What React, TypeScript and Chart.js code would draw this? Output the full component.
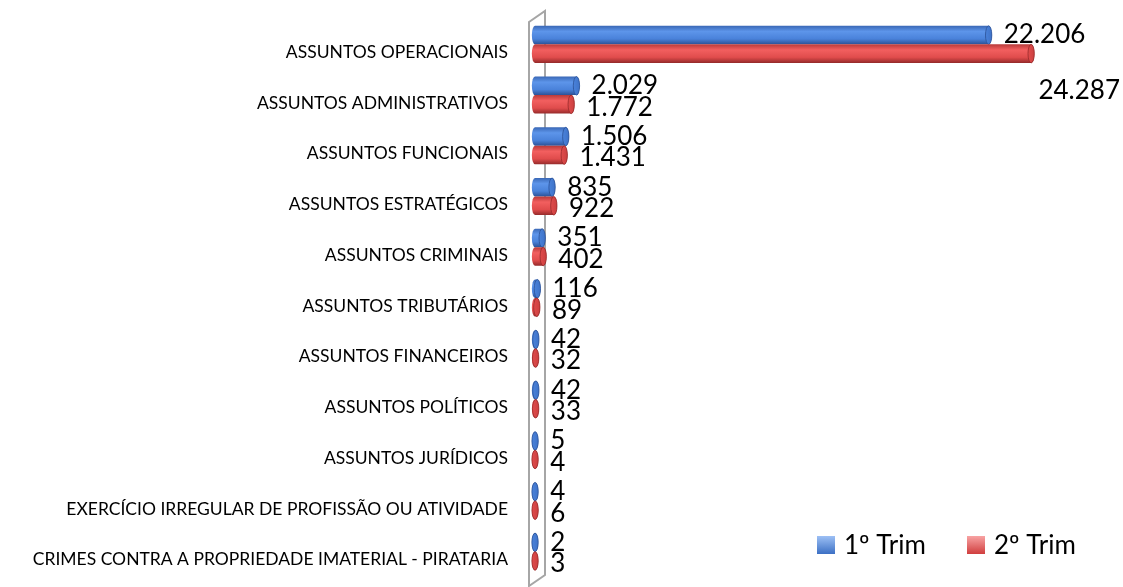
import React, { useEffect, useRef } from "react";
import { Chart, registerables } from "chart.js";

Chart.register(...registerables);

const categories = [
  "ASSUNTOS OPERACIONAIS",
  "ASSUNTOS ADMINISTRATIVOS",
  "ASSUNTOS FUNCIONAIS",
  "ASSUNTOS ESTRATÉGICOS",
  "ASSUNTOS CRIMINAIS",
  "ASSUNTOS TRIBUTÁRIOS",
  "ASSUNTOS FINANCEIROS",
  "ASSUNTOS POLÍTICOS",
  "ASSUNTOS JURÍDICOS",
  "EXERCÍCIO IRREGULAR DE PROFISSÃO OU ATIVIDADE",
  "CRIMES CONTRA A PROPRIEDADE IMATERIAL - PIRATARIA",
];
const trim1 = [22206, 2029, 1506, 835, 351, 116, 42, 42, 5, 4, 2];
const trim2 = [24287, 1772, 1431, 922, 402, 89, 32, 33, 4, 6, 3];
const seriesNames = ["1º Trim", "2º Trim"];
const axisMax = 28000;

const palettes = [
  { top: "#3a68b6", hi: "#5d95ea", mid: "#4a82da", bot: "#2b5196", cap: "#3f73c8", capEdge: "#2b5196", legTop: "#9dc0f5", legBot: "#3c70c4" },
  { top: "#b83a3a", hi: "#f25f5f", mid: "#e04c4c", bot: "#952a2a", cap: "#cc4040", capEdge: "#952a2a", legTop: "#f8a3a3", legBot: "#d03e3e" },
];

const FONT = "Lato, 'Open Sans', sans-serif";

function fmt(v: number): string {
  return String(v).replace(/\B(?=(\d{3})+(?!\d))/g, ".");
}

const cylinderPlugin = {
  id: "cylinders",
  beforeDatasetsDraw(chart: any) {
    const { ctx, chartArea } = chart;
    const l = chartArea.left;
    ctx.save();
    ctx.strokeStyle = "#a6a6a6";
    ctx.lineWidth = 2;
    ctx.beginPath();
    ctx.moveTo(l - 6, chartArea.top + 3);
    ctx.lineTo(l + 10, chartArea.top - 8);
    ctx.lineTo(l + 10, chartArea.bottom - 2);
    ctx.lineTo(l - 6, chartArea.bottom + 9);
    ctx.closePath();
    ctx.stroke();
    ctx.restore();
  },
  afterDatasetsDraw(chart: any) {
    const { ctx, width } = chart;
    ctx.save();
    chart.data.datasets.forEach((ds: any, di: number) => {
      const meta = chart.getDatasetMeta(di);
      const p = palettes[di];
      meta.data.forEach((el: any, i: number) => {
        const { x, y, base, height } = el.getProps(["x", "y", "base", "height"], true);
        const h = height;
        const top = y - h / 2;
        const rx = Math.max(2.8, h * 0.17);
        const g = ctx.createLinearGradient(0, top, 0, top + h);
        g.addColorStop(0, p.top);
        g.addColorStop(0.3, p.hi);
        g.addColorStop(0.7, p.mid);
        g.addColorStop(1, p.bot);
        ctx.fillStyle = g;
        ctx.beginPath();
        ctx.ellipse(base, y, rx, h / 2, 0, Math.PI / 2, (Math.PI * 3) / 2);
        ctx.lineTo(x, top);
        ctx.ellipse(x, y, rx, h / 2, 0, -Math.PI / 2, Math.PI / 2);
        ctx.closePath();
        ctx.fill();
        const cg = ctx.createLinearGradient(x - rx, 0, x + rx, 0);
        cg.addColorStop(0, p.mid);
        cg.addColorStop(1, p.cap);
        ctx.fillStyle = cg;
        ctx.beginPath();
        ctx.ellipse(x, y, rx, h / 2, 0, 0, Math.PI * 2);
        ctx.fill();
        ctx.strokeStyle = p.capEdge;
        ctx.lineWidth = 0.8;
        ctx.stroke();
        const txt = fmt(ds.data[i]);
        ctx.fillStyle = "#000";
        ctx.font = `26px ${FONT}`;
        ctx.textBaseline = "middle";
        const tw = ctx.measureText(txt).width;
        let lx = x + rx + 12;
        let ly = y + (di === 1 ? 3 : 0);
        if (lx + tw > width - 2) {
          // not enough room beside the bar: drop the label below it
          lx = width - 3 - tw;
          ly = y + h * 2;
        }
        ctx.textAlign = "left";
        ctx.fillText(txt, lx, ly);
      });
    });
    ctx.restore();
  },
  afterDraw(chart: any) {
    const { ctx, chartArea } = chart;
    ctx.save();
    ctx.font = `26px ${FONT}`;
    ctx.textBaseline = "middle";
    ctx.textAlign = "left";
    const sq = 18;
    const gapText = 9;
    const itemStep = 150;
    const cy = chartArea.bottom - 32;
    const x0 = chartArea.right - 290;
    seriesNames.forEach((n, i) => {
      const p = palettes[i];
      const xPos = x0 + i * itemStep;
      const g = ctx.createLinearGradient(0, cy - sq / 2, 0, cy + sq / 2);
      g.addColorStop(0, p.legTop);
      g.addColorStop(1, p.legBot);
      ctx.fillStyle = g;
      ctx.fillRect(xPos, cy - sq / 2, sq, sq);
      ctx.fillStyle = "#000";
      ctx.fillText(n, xPos + sq + gapText, cy + 1);
    });
    ctx.restore();
  },
};

export default function App() {
  const ref = useRef<HTMLCanvasElement | null>(null);
  useEffect(() => {
    if (!ref.current) return;
    const chart = new Chart(ref.current, {
      type: "bar",
      data: {
        labels: categories,
        datasets: [
          { label: seriesNames[0], data: trim1, backgroundColor: "rgba(0,0,0,0)", borderWidth: 0 },
          { label: seriesNames[1], data: trim2, backgroundColor: "rgba(0,0,0,0)", borderWidth: 0 },
        ],
      },
      options: {
        indexAxis: "y",
        responsive: false,
        animation: false,
        maintainAspectRatio: false,
        layout: { padding: { top: 19, bottom: 10, left: 0, right: 16 } },
        datasets: { bar: { categoryPercentage: 0.73, barPercentage: 1.0 } },
        plugins: { legend: { display: false }, tooltip: { enabled: false } },
        scales: {
          x: { display: false, min: 0, max: axisMax },
          y: {
            grid: { display: false, drawTicks: false },
            border: { display: false },
            ticks: {
              color: "#000",
              font: { family: FONT, size: 17.5 },
              padding: 27,
              labelOffset: 8,
              autoSkip: false,
            },
            afterFit: (scale: any) => {
              scale.width = 535;
              scale.paddingTop = 0;
              scale.paddingBottom = 0;
            },
          },
        },
      } as any,
      plugins: [cylinderPlugin],
    });
    return () => chart.destroy();
  }, []);
  return (
    <div style={{ position: "absolute", left: 0, top: 0, width: 1123, height: 587, background: "#fff" }}>
      <canvas ref={ref} width={1123} height={587} style={{ display: "block" }} />
    </div>
  );
}
